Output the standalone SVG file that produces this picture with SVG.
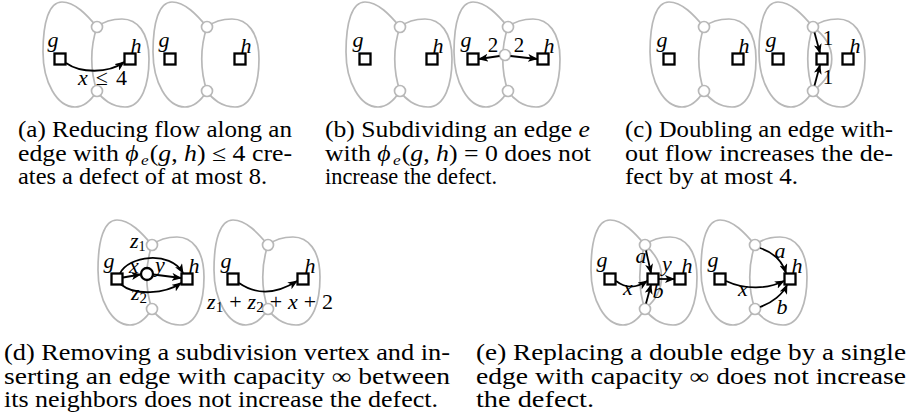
<svg xmlns="http://www.w3.org/2000/svg" width="908" height="418" viewBox="0 0 908 418">
<style>
.face{fill:none;stroke:#b8b8b8;stroke-width:1.7}
.pt{fill:#fff;stroke:#b8b8b8;stroke-width:1.7}
.sq{fill:#fff;stroke:#000;stroke-width:2.3}
.vx{fill:#fff;stroke:#000;stroke-width:2.3}
.e{fill:none;stroke:#000;stroke-width:1.8;marker-end:url(#ar)}
.m{font-family:"Liberation Serif",serif;font-size:22px;font-style:italic;fill:#000}
.lb{font-family:"Liberation Serif",serif;font-size:21px;fill:#000}
.cap{font-family:"Liberation Serif",serif;font-size:22.5px;fill:#000}
.i{font-style:italic}
.n{font-style:normal}
</style>
<defs>
<marker id="ar" viewBox="0 0 10 8" refX="9" refY="4" markerWidth="10" markerHeight="8" markerUnits="userSpaceOnUse" orient="auto"><path d="M0,0 L10,4 L0,8 L2.5,4 z" fill="#000"/></marker>
<path id="blob" class="face" d="M0,0 C-10,-12 -22,-25 -35,-25 C-48,-25 -54,-5 -54,25 C-54,55 -40,80 -22,80 C-12,80 -5,72 0,64 C5,72 15,80 28,80 C45,80 52,57 52,32 C52,5 40,-8 25,-8 C15,-8 6,-5 0,0 Z"/>
<path id="div" class="face" d="M0,0 C-7,20 -7,44 0,64"/>
<g id="region"><use href="#blob"/><use href="#div"/><circle cx="0" cy="0" r="5.5" class="pt"/><circle cx="0" cy="64" r="5.5" class="pt"/></g>
</defs>

<!-- (a) -->
<g id="panel-a">
<use href="#region" transform="translate(97,27)"/>
<use href="#region" transform="translate(207,27)"/>
<g id="a-g1"><rect class="sq" x="54.5" y="53.5" width="11" height="11"/><text class="m" x="53" y="47" text-anchor="middle">g</text></g>
<g id="a-h1"><rect class="sq" x="124.5" y="53.5" width="11" height="11"/><text class="m" x="136" y="53" text-anchor="middle">h</text></g>
<g id="a-g2"><rect class="sq" x="164.5" y="53.5" width="11" height="11"/><text class="m" x="164" y="47" text-anchor="middle">g</text></g>
<g id="a-h2"><rect class="sq" x="234.5" y="53.5" width="11" height="11"/><text class="m" x="246" y="53" text-anchor="middle">h</text></g>
</g>

<!-- (b) -->
<g id="panel-b">
<use href="#region" transform="translate(400,27)"/>
<use href="#region" transform="translate(508,27)"/>
<g id="b-s"><circle cx="505" cy="55" r="5.5" class="pt"/></g>
<g id="b-g1"><rect class="sq" x="359.5" y="53.5" width="11" height="11"/><text class="m" x="358" y="47" text-anchor="middle">g</text></g>
<g id="b-h1"><rect class="sq" x="426.5" y="53.5" width="11" height="11"/><text class="m" x="438" y="53" text-anchor="middle">h</text></g>
<g id="b-g2"><rect class="sq" x="467.5" y="53.5" width="11" height="11"/><text class="m" x="466" y="47" text-anchor="middle">g</text></g>
<g id="b-h2"><rect class="sq" x="537.5" y="53.5" width="11" height="11"/><text class="m" x="549" y="53" text-anchor="middle">h</text></g>
</g>

<!-- (c) -->
<g id="panel-c">
<use href="#region" transform="translate(704,27)"/>
<path class="face" d="M813,27 C838,45 838,73 813,91"/>
<use href="#region" transform="translate(813,27)"/>
<g id="c-g1"><rect class="sq" x="663.5" y="53.5" width="11" height="11"/><text class="m" x="662" y="47" text-anchor="middle">g</text></g>
<g id="c-h1"><rect class="sq" x="732.5" y="53.5" width="11" height="11"/><text class="m" x="744" y="53" text-anchor="middle">h</text></g>
<g id="c-g2"><rect class="sq" x="772.5" y="53.5" width="11" height="11"/><text class="m" x="771" y="47" text-anchor="middle">g</text></g>
<g id="c-m"><rect class="sq" x="816.5" y="53.5" width="11" height="11"/></g>
<g id="c-h2"><rect class="sq" x="842.5" y="53.5" width="11" height="11"/><text class="m" x="855" y="53" text-anchor="middle">h</text></g>
</g>

<!-- (d) -->
<g id="panel-d">
<use href="#region" transform="translate(152,245)"/>
<use href="#region" transform="translate(268,245)"/>
<g id="d-g1"><rect class="sq" x="111.5" y="273.5" width="11" height="11"/><text class="m" x="109" y="268" text-anchor="middle">g</text></g>
<g id="d-v"><circle class="vx" cx="147" cy="274" r="6"/></g>
<g id="d-h1"><rect class="sq" x="181.5" y="273.5" width="11" height="11"/><text class="m" x="194" y="273" text-anchor="middle">h</text></g>
<g id="d-g2"><rect class="sq" x="227.5" y="273.5" width="11" height="11"/><text class="m" x="226" y="268" text-anchor="middle">g</text></g>
<g id="d-h2"><rect class="sq" x="297.5" y="273.5" width="11" height="11"/><text class="m" x="310" y="273" text-anchor="middle">h</text></g>
</g>

<!-- (e) -->
<g id="panel-e">
<path class="face" d="M645,245 C667,263 667,291 645,309"/>
<use href="#region" transform="translate(645,245)"/>
<use href="#region" transform="translate(755,245)"/>
<g id="e-g1"><rect class="sq" x="604.5" y="273.5" width="11" height="11"/><text class="m" x="602" y="267" text-anchor="middle">g</text></g>
<g id="e-m"><rect class="sq" x="647.5" y="273.5" width="11" height="11"/></g>
<g id="e-h1"><rect class="sq" x="674.5" y="273.5" width="11" height="11"/><text class="m" x="687" y="273" text-anchor="middle">h</text></g>
<g id="e-g2"><rect class="sq" x="714.5" y="273.5" width="11" height="11"/><text class="m" x="713" y="267" text-anchor="middle">g</text></g>
<g id="e-h2"><rect class="sq" x="784.5" y="273.5" width="11" height="11"/><text class="m" x="797" y="273" text-anchor="middle">h</text></g>
</g>

<!-- connectors -->
<g id="connectors">
<path class="e" d="M66,63 C80,73 108,74 124,62"/>
<path class="e" d="M499.5,56 L479,59"/>
<path class="e" d="M510.5,56 L537,59"/>
<path class="e" d="M814.5,32.5 L820,53"/>
<path class="e" d="M814.5,85.5 L820,65"/>
<path class="e" d="M123,277.5 L140.5,274.5"/>
<path class="e" d="M153.5,274.5 L181,278"/>
<path class="e" d="M120,273.5 C128,256 170,250 183,273"/>
<path class="e" d="M121,284.5 C135,296 165,294 181,283"/>
<path class="e" d="M239,283 C255,294 275,295 297,281"/>
<path class="e" d="M616,281 C628,290 638,287 647,281"/>
<path class="e" d="M646,250.5 L651,273"/>
<path class="e" d="M646,303.5 L651,285"/>
<path class="e" d="M659,279 L674,279"/>
<path class="e" d="M760,248 C772,252 782,260 786,273"/>
<path class="e" d="M726,281 C745,290 768,289 784,281"/>
<path class="e" d="M760,307 C772,303 783,294 787,285"/>
</g>

<!-- edge labels -->
<g id="edge-labels">
<text class="m" x="78" y="85" textLength="49" lengthAdjust="spacing">x<tspan class="n"> ≤ 4</tspan></text>
<text class="lb" x="493" y="52" text-anchor="middle">2</text>
<text class="lb" x="519" y="52" text-anchor="middle">2</text>
<text class="lb" x="828" y="45" text-anchor="middle">1</text>
<text class="lb" x="828" y="84" text-anchor="middle">1</text>
<text class="m" x="130" y="248" font-size="20">z<tspan class="n" font-size="14" dy="3">1</tspan></text>
<text class="m" x="134" y="273" text-anchor="middle" font-size="20">x</text>
<text class="m" x="160" y="272" text-anchor="middle">y</text>
<text class="m" x="131" y="300">z<tspan class="n" font-size="15" dy="3">2</tspan></text>
<text class="m" x="207" y="309" textLength="126" lengthAdjust="spacing">z<tspan class="n" font-size="15" dy="3">1</tspan><tspan class="n" dy="-3"> + </tspan>z<tspan class="n" font-size="15" dy="3">2</tspan><tspan class="n" dy="-3"> + </tspan>x<tspan class="n"> + 2</tspan></text>
<text class="m" x="641" y="263" text-anchor="middle">a</text>
<text class="m" x="667" y="271" text-anchor="middle">y</text>
<text class="m" x="628" y="295" text-anchor="middle">x</text>
<text class="m" x="658" y="298" text-anchor="middle">b</text>
<text class="m" x="780" y="258" text-anchor="middle">a</text>
<text class="m" x="743" y="296" text-anchor="middle">x</text>
<text class="m" x="782" y="314" text-anchor="middle">b</text>
</g>

<!-- captions -->
<g id="captions">
<text class="cap" x="18" y="137" textLength="274" lengthAdjust="spacingAndGlyphs">(a) Reducing flow along an</text>
<text class="cap" x="18" y="161" textLength="274" lengthAdjust="spacingAndGlyphs">edge with <tspan class="i">ϕ</tspan><tspan class="i" font-size="15" dx="2" dy="4">e</tspan><tspan dx="1" dy="-4">(</tspan><tspan class="i">g</tspan>, <tspan class="i">h</tspan>) ≤ 4 cre-</text>
<text class="cap" x="18" y="184" textLength="249" lengthAdjust="spacingAndGlyphs">ates a defect of at most 8.</text>

<text class="cap" x="325" y="137" textLength="265" lengthAdjust="spacingAndGlyphs">(b) Subdividing an edge <tspan class="i">e</tspan></text>
<text class="cap" x="325" y="161" textLength="266" lengthAdjust="spacingAndGlyphs">with <tspan class="i">ϕ</tspan><tspan class="i" font-size="15" dx="2" dy="4">e</tspan><tspan dx="1" dy="-4">(</tspan><tspan class="i">g</tspan>, <tspan class="i">h</tspan>) = 0 does not</text>
<text class="cap" x="325" y="184" textLength="172" lengthAdjust="spacingAndGlyphs">increase the defect.</text>

<text class="cap" x="625" y="137" textLength="268" lengthAdjust="spacingAndGlyphs">(c) Doubling an edge with-</text>
<text class="cap" x="625" y="161" textLength="268" lengthAdjust="spacingAndGlyphs">out flow increases the de-</text>
<text class="cap" x="625" y="184" textLength="173" lengthAdjust="spacingAndGlyphs">fect by at most 4.</text>

<text class="cap" x="4" y="360" textLength="446" lengthAdjust="spacingAndGlyphs">(d) Removing a subdivision vertex and in-</text>
<text class="cap" x="4" y="384" textLength="446" lengthAdjust="spacingAndGlyphs">serting an edge with capacity ∞ between</text>
<text class="cap" x="4" y="407" textLength="434" lengthAdjust="spacingAndGlyphs">its neighbors does not increase the defect.</text>

<text class="cap" x="476" y="360" textLength="430" lengthAdjust="spacingAndGlyphs">(e) Replacing a double edge by a single</text>
<text class="cap" x="476" y="384" textLength="430" lengthAdjust="spacingAndGlyphs">edge with capacity ∞ does not increase</text>
<text class="cap" x="476" y="407" textLength="118" lengthAdjust="spacingAndGlyphs">the defect.</text>
</g>
</svg>
